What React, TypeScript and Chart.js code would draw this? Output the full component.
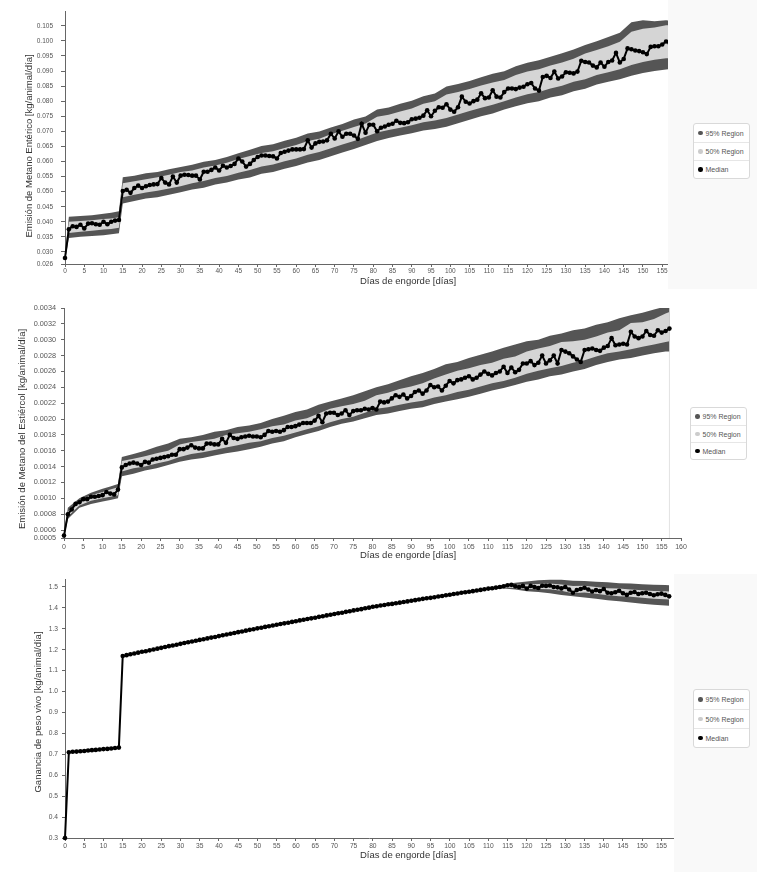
import React, { useEffect, useRef } from "react";
import { Chart, registerables } from "chart.js";

Chart.register(...registerables);

const FONT = '"Liberation Sans", Arial, Helvetica, sans-serif';
const DARK = "#555555";
const LIGHT = "#d5d5d5";
const AXIS = "#666666";

// ---- categories (days of fattening) ----
const days = [
  0, 1, 2, 3, 4, 5, 6, 7, 8, 9, 10, 11, 12, 13, 14, 15, 16, 17, 18, 19,
  20, 21, 22, 23, 24, 25, 26, 27, 28, 29, 30, 31, 32, 33, 34, 35, 36, 37, 38, 39,
  40, 41, 42, 43, 44, 45, 46, 47, 48, 49, 50, 51, 52, 53, 54, 55, 56, 57, 58, 59,
  60, 61, 62, 63, 64, 65, 66, 67, 68, 69, 70, 71, 72, 73, 74, 75, 76, 77, 78, 79,
  80, 81, 82, 83, 84, 85, 86, 87, 88, 89, 90, 91, 92, 93, 94, 95, 96, 97, 98, 99,
  100, 101, 102, 103, 104, 105, 106, 107, 108, 109, 110, 111, 112, 113, 114, 115, 116, 117, 118, 119,
  120, 121, 122, 123, 124, 125, 126, 127, 128, 129, 130, 131, 132, 133, 134, 135, 136, 137, 138, 139,
  140, 141, 142, 143, 144, 145, 146, 147, 148, 149, 150, 151, 152, 153, 154, 155, 156, 157,
];

const bandDays = [
  0, 1, 4, 7, 10, 12, 14,
  15, 18, 21, 24, 27, 30, 33, 36, 39, 42, 45, 48, 51, 54, 57, 60,
  63, 66, 69, 72, 75, 78, 81, 84, 87, 90, 93, 96, 99, 102, 105, 108,
  111, 114, 117, 120, 123, 126, 129, 132, 135, 138, 141, 144, 147, 150, 153, 156,
  157,
];

const bandDaysGain = [108, 111, 114, 117, 120, 123, 126, 129, 132, 135, 138, 141, 144, 147, 150, 153, 156, 157];

// ---- chart 1: enteric methane ----
const medianEnteric = [
  0.0280, 0.0375, 0.0385, 0.0383, 0.0390, 0.0378, 0.0394, 0.0395, 0.0392, 0.0390,
  0.0400, 0.0392, 0.0400, 0.0404, 0.0406, 0.0502, 0.0506, 0.0496, 0.0512, 0.0520,
  0.0512, 0.0518, 0.0522, 0.0524, 0.0525, 0.0545, 0.0530, 0.0524, 0.0550, 0.0530,
  0.0553, 0.0556, 0.0555, 0.0553, 0.0553, 0.0540, 0.0566, 0.0566, 0.0572, 0.0580,
  0.0570, 0.0586, 0.0580, 0.0585, 0.0592, 0.0610, 0.0600, 0.0583, 0.0592, 0.0605,
  0.0615, 0.0620, 0.0620, 0.0618, 0.0617, 0.0610, 0.0628, 0.0632, 0.0636, 0.0640,
  0.0640, 0.0640, 0.0641, 0.0670, 0.0646, 0.0660, 0.0665, 0.0666, 0.0670, 0.0692,
  0.0676, 0.0700, 0.0682, 0.0692, 0.0692, 0.0686, 0.0675, 0.0725, 0.0695, 0.0722,
  0.0722, 0.0700, 0.0712, 0.0716, 0.0722, 0.0725, 0.0735, 0.0728, 0.0727, 0.0730,
  0.0740, 0.0742, 0.0745, 0.0752, 0.0770, 0.0750, 0.0768, 0.0780, 0.0778, 0.0790,
  0.0772, 0.0765, 0.0780, 0.0815, 0.0798, 0.0792, 0.0800, 0.0805, 0.0826, 0.0810,
  0.0812, 0.0836, 0.0815, 0.0812, 0.0830, 0.0842, 0.0842, 0.0840, 0.0845, 0.0848,
  0.0856, 0.0860, 0.0842, 0.0835, 0.0880, 0.0884, 0.0877, 0.0898, 0.0875, 0.0882,
  0.0896, 0.0894, 0.0892, 0.0898, 0.0934, 0.0930, 0.0928, 0.0918, 0.0912, 0.0928,
  0.0914, 0.0930, 0.0935, 0.0960, 0.0928, 0.0940, 0.0975, 0.0972, 0.0968, 0.0966,
  0.0962, 0.0956, 0.0980, 0.0982, 0.0982, 0.0988, 0.0998, 0.0990,
];
const hi95Enteric = [
  0.0290, 0.0417, 0.0419, 0.0422, 0.0427, 0.0430, 0.0435,
  0.0548, 0.0553, 0.0561, 0.0565, 0.0574, 0.0582, 0.0589, 0.0599, 0.0605, 0.0615, 0.0627, 0.0639, 0.0651, 0.0657, 0.0669, 0.0679,
  0.0693, 0.0699, 0.0713, 0.0724, 0.0739, 0.0749, 0.0772, 0.0779, 0.0791, 0.0801, 0.0816, 0.0825, 0.0849, 0.0857, 0.0867, 0.0879,
  0.0891, 0.0899, 0.0916, 0.0927, 0.0936, 0.0947, 0.0959, 0.0971, 0.0986, 0.0999, 0.1013, 0.1027, 0.1062, 0.1068, 0.1065, 0.1068,
  0.1067,
];
const lo95Enteric = [
  0.0270, 0.0346, 0.0350, 0.0353, 0.0355, 0.0359, 0.0362,
  0.0461, 0.0469, 0.0477, 0.0481, 0.0490, 0.0498, 0.0507, 0.0513, 0.0524, 0.0530, 0.0540, 0.0547, 0.0559, 0.0565, 0.0576, 0.0585,
  0.0597, 0.0605, 0.0617, 0.0630, 0.0641, 0.0655, 0.0668, 0.0678, 0.0686, 0.0694, 0.0703, 0.0708, 0.0715, 0.0727, 0.0738, 0.0750,
  0.0759, 0.0772, 0.0783, 0.0793, 0.0800, 0.0812, 0.0820, 0.0833, 0.0841, 0.0855, 0.0864, 0.0873, 0.0884, 0.0893, 0.0900, 0.0905,
  0.0906,
];
const hi50Enteric = [
  0.0285, 0.0400, 0.0403, 0.0405, 0.0409, 0.0411, 0.0415,
  0.0528, 0.0534, 0.0541, 0.0548, 0.0556, 0.0565, 0.0570, 0.0580, 0.0587, 0.0596, 0.0608, 0.0618, 0.0628, 0.0634, 0.0645, 0.0655,
  0.0668, 0.0675, 0.0690, 0.0702, 0.0714, 0.0726, 0.0748, 0.0755, 0.0766, 0.0776, 0.0791, 0.0800, 0.0822, 0.0830, 0.0840, 0.0852,
  0.0862, 0.0870, 0.0887, 0.0898, 0.0906, 0.0918, 0.0928, 0.0941, 0.0958, 0.0970, 0.0982, 0.0997, 0.1030, 0.1040, 0.1044, 0.1052,
  0.1052,
];
const lo50Enteric = [
  0.0275, 0.0363, 0.0367, 0.0370, 0.0374, 0.0376, 0.0380,
  0.0481, 0.0490, 0.0497, 0.0503, 0.0510, 0.0518, 0.0528, 0.0535, 0.0545, 0.0552, 0.0563, 0.0572, 0.0583, 0.0590, 0.0601, 0.0610,
  0.0622, 0.0631, 0.0644, 0.0656, 0.0668, 0.0682, 0.0696, 0.0704, 0.0712, 0.0720, 0.0730, 0.0736, 0.0744, 0.0756, 0.0767, 0.0778,
  0.0788, 0.0800, 0.0812, 0.0823, 0.0830, 0.0842, 0.0851, 0.0864, 0.0873, 0.0887, 0.0896, 0.0906, 0.0920, 0.0930, 0.0937, 0.0942,
  0.0942,
];

// ---- chart 2: manure methane ----
const medianManure = [
  0.00053, 0.00080, 0.00086, 0.00093, 0.00095, 0.00099, 0.00099, 0.00102, 0.00102, 0.00103,
  0.00104, 0.00108, 0.00106, 0.00105, 0.00111, 0.00139, 0.00142, 0.00144, 0.00145, 0.00144,
  0.00142, 0.00146, 0.00145, 0.00149, 0.00150, 0.00151, 0.00152, 0.00153, 0.00155, 0.00155,
  0.00162, 0.00162, 0.00164, 0.00167, 0.00164, 0.00163, 0.00163, 0.00169, 0.00169, 0.00168,
  0.00168, 0.00175, 0.00170, 0.00180, 0.00176, 0.00175, 0.00177, 0.00178, 0.00179, 0.00178,
  0.00178, 0.00177, 0.00180, 0.00185, 0.00184, 0.00185, 0.00184, 0.00186, 0.00190, 0.00190,
  0.00191, 0.00193, 0.00195, 0.00195, 0.00195, 0.00198, 0.00204, 0.00196, 0.00207, 0.00208,
  0.00208, 0.00205, 0.00207, 0.00211, 0.00205, 0.00210, 0.00211, 0.00211, 0.00213, 0.00212,
  0.00214, 0.00212, 0.00222, 0.00221, 0.00222, 0.00226, 0.00230, 0.00228, 0.00231, 0.00226,
  0.00229, 0.00234, 0.00236, 0.00232, 0.00236, 0.00243, 0.00240, 0.00241, 0.00236, 0.00242,
  0.00248, 0.00245, 0.00249, 0.00250, 0.00252, 0.00254, 0.00250, 0.00252, 0.00256, 0.00260,
  0.00257, 0.00255, 0.00258, 0.00260, 0.00266, 0.00258, 0.00265, 0.00259, 0.00262, 0.00270,
  0.00270, 0.00273, 0.00268, 0.00271, 0.00280, 0.00270, 0.00274, 0.00280, 0.00270, 0.00287,
  0.00285, 0.00283, 0.00279, 0.00275, 0.00272, 0.00287, 0.00288, 0.00289, 0.00287, 0.00286,
  0.00290, 0.00292, 0.00302, 0.00293, 0.00294, 0.00295, 0.00294, 0.00310, 0.00304, 0.00302,
  0.00304, 0.00311, 0.00306, 0.00305, 0.00312, 0.00309, 0.00311, 0.00314,
];
const hi95Manure = [
  0.00056, 0.00088, 0.00100, 0.00107, 0.00112, 0.00115, 0.00118,
  0.00152, 0.00156, 0.00160, 0.00165, 0.00169, 0.00175, 0.00177, 0.00180, 0.00184, 0.00186, 0.00190, 0.00192, 0.00195, 0.00200, 0.00204, 0.00209,
  0.00212, 0.00218, 0.00222, 0.00226, 0.00230, 0.00235, 0.00240, 0.00244, 0.00249, 0.00254, 0.00258, 0.00263, 0.00269, 0.00272, 0.00277, 0.00281,
  0.00285, 0.00290, 0.00294, 0.00298, 0.00300, 0.00305, 0.00308, 0.00312, 0.00314, 0.00319, 0.00322, 0.00327, 0.00331, 0.00334, 0.00338, 0.00342,
  0.00343,
];
const lo95Manure = [
  0.00050, 0.00074, 0.00088, 0.00093, 0.00096, 0.00098, 0.00100,
  0.00128, 0.00131, 0.00135, 0.00138, 0.00142, 0.00146, 0.00149, 0.00151, 0.00154, 0.00157, 0.00159, 0.00162, 0.00165, 0.00169, 0.00172, 0.00177,
  0.00181, 0.00185, 0.00190, 0.00194, 0.00197, 0.00201, 0.00205, 0.00207, 0.00210, 0.00213, 0.00215, 0.00219, 0.00222, 0.00225, 0.00228, 0.00232,
  0.00236, 0.00239, 0.00243, 0.00247, 0.00250, 0.00254, 0.00256, 0.00260, 0.00263, 0.00268, 0.00272, 0.00275, 0.00277, 0.00280, 0.00283, 0.00285,
  0.00285,
];
const hi50Manure = [
  0.00055, 0.00083, 0.00097, 0.00104, 0.00108, 0.00111, 0.00114,
  0.00147, 0.00150, 0.00153, 0.00157, 0.00160, 0.00168, 0.00171, 0.00173, 0.00175, 0.00180, 0.00182, 0.00184, 0.00187, 0.00191, 0.00193, 0.00198,
  0.00201, 0.00207, 0.00213, 0.00216, 0.00219, 0.00223, 0.00230, 0.00233, 0.00238, 0.00241, 0.00245, 0.00251, 0.00256, 0.00261, 0.00264, 0.00268,
  0.00271, 0.00276, 0.00279, 0.00285, 0.00289, 0.00292, 0.00297, 0.00298, 0.00300, 0.00304, 0.00309, 0.00312, 0.00321, 0.00322, 0.00326, 0.00333,
  0.00335,
];
const lo50Manure = [
  0.00052, 0.00077, 0.00091, 0.00097, 0.00100, 0.00102, 0.00104,
  0.00134, 0.00138, 0.00140, 0.00144, 0.00147, 0.00152, 0.00156, 0.00158, 0.00161, 0.00164, 0.00167, 0.00170, 0.00172, 0.00176, 0.00179, 0.00183,
  0.00187, 0.00191, 0.00196, 0.00200, 0.00203, 0.00208, 0.00213, 0.00215, 0.00218, 0.00221, 0.00223, 0.00227, 0.00230, 0.00234, 0.00237, 0.00241,
  0.00245, 0.00248, 0.00252, 0.00257, 0.00261, 0.00264, 0.00267, 0.00271, 0.00274, 0.00279, 0.00283, 0.00285, 0.00288, 0.00291, 0.00294, 0.00297,
  0.00298,
];

// ---- chart 3: live weight gain ----
const medianGain = [
  0.300, 0.710, 0.712, 0.713, 0.715, 0.716, 0.718, 0.720, 0.721, 0.723,
  0.725, 0.726, 0.728, 0.730, 0.732, 1.170, 1.174, 1.178, 1.182, 1.186,
  1.190, 1.193, 1.197, 1.201, 1.205, 1.209, 1.213, 1.217, 1.220, 1.224,
  1.228, 1.232, 1.236, 1.239, 1.243, 1.247, 1.250, 1.254, 1.258, 1.261,
  1.265, 1.269, 1.273, 1.276, 1.280, 1.284, 1.287, 1.291, 1.295, 1.298,
  1.302, 1.305, 1.309, 1.312, 1.316, 1.319, 1.323, 1.326, 1.329, 1.333,
  1.336, 1.340, 1.343, 1.347, 1.350, 1.353, 1.357, 1.360, 1.364, 1.367,
  1.371, 1.374, 1.377, 1.381, 1.384, 1.388, 1.391, 1.394, 1.398, 1.401,
  1.405, 1.408, 1.411, 1.414, 1.417, 1.419, 1.422, 1.425, 1.428, 1.431,
  1.434, 1.437, 1.440, 1.443, 1.446, 1.448, 1.451, 1.454, 1.457, 1.460,
  1.463, 1.466, 1.469, 1.472, 1.475, 1.477, 1.480, 1.483, 1.486, 1.489,
  1.492, 1.494, 1.497, 1.500, 1.503, 1.508, 1.510, 1.503, 1.500, 1.505,
  1.492, 1.505, 1.500, 1.495, 1.506, 1.505, 1.507, 1.500, 1.498, 1.493,
  1.500, 1.488, 1.472, 1.485, 1.490, 1.496, 1.488, 1.478, 1.485, 1.480,
  1.490, 1.472, 1.470, 1.475, 1.482, 1.470, 1.462, 1.472, 1.476, 1.466,
  1.470, 1.472, 1.466, 1.460, 1.465, 1.468, 1.462, 1.455,
];
const hi95Gain = [1.487, 1.498, 1.510, 1.520, 1.526, 1.532, 1.535, 1.534, 1.530, 1.528, 1.525, 1.522, 1.518, 1.516, 1.513, 1.511, 1.509, 1.508];
const lo95Gain = [1.485, 1.488, 1.492, 1.488, 1.480, 1.476, 1.470, 1.462, 1.455, 1.450, 1.444, 1.437, 1.432, 1.426, 1.420, 1.415, 1.411, 1.410];
const hi50Gain = [1.486, 1.495, 1.506, 1.511, 1.512, 1.514, 1.516, 1.512, 1.505, 1.506, 1.500, 1.494, 1.492, 1.488, 1.484, 1.481, 1.479, 1.478];
const lo50Gain = [1.486, 1.491, 1.497, 1.495, 1.490, 1.490, 1.489, 1.482, 1.470, 1.474, 1.467, 1.460, 1.456, 1.453, 1.448, 1.444, 1.441, 1.440];

// ---- tick labels ----
const xTicks155 = [0, 5, 10, 15, 20, 25, 30, 35, 40, 45, 50, 55, 60, 65, 70, 75, 80, 85, 90, 95, 100, 105, 110, 115, 120, 125, 130, 135, 140, 145, 150, 155];
const xTicks160 = [0, 5, 10, 15, 20, 25, 30, 35, 40, 45, 50, 55, 60, 65, 70, 75, 80, 85, 90, 95, 100, 105, 110, 115, 120, 125, 130, 135, 140, 145, 150, 155, 160];
const yTicksEnteric = [0.026, 0.030, 0.035, 0.040, 0.045, 0.050, 0.055, 0.060, 0.065, 0.070, 0.075, 0.080, 0.085, 0.090, 0.095, 0.100, 0.105];
const yTicksManure = [0.0005, 0.0006, 0.0008, 0.0010, 0.0012, 0.0014, 0.0016, 0.0018, 0.0020, 0.0022, 0.0024, 0.0026, 0.0028, 0.0030, 0.0032, 0.0034];
const yTicksGain = [0.3, 0.4, 0.5, 0.6, 0.7, 0.8, 0.9, 1.0, 1.1, 1.2, 1.3, 1.4, 1.5];

const legendLabels = ["95% Region", "50% Region", "Median"];
const legendColors = [DARK, "#cccccc", "#000000"];

const xTitle = "Días de engorde [días]";
const yTitleEnteric = "Emisión de Metano Entérico [kg/animal/día]";
const yTitleManure = "Emisión de Metano del Estiércol [kg/animal/día]";
const yTitleGain = "Ganancia de peso vivo [kg/animal/día]";

type Spec = {
  median: number[];
  bDays: number[];
  lo95: number[];
  hi95: number[];
  lo50: number[];
  hi50: number[];
  xMax: number;
  xTicks: number[];
  yMin: number;
  yMax: number;
  yTicks: number[];
  decimals: number;
  padTop: number;
  padRight: number;
  yWidth: number;
  xHeight: number;
  yFont: number;
  xFont: number;
  yPad: number;
  xPad: number;
  yTickLen: number;
  endLine?: boolean;
};

function BandChart({ spec, top, height }: { spec: Spec; top: number; height: number }) {
  const ref = useRef<HTMLCanvasElement>(null);
  useEffect(() => {
    if (!ref.current) return;
    const pts = (xs: number[], ys: number[]) => xs.map((x, i) => ({ x, y: ys[i] }));
    const datasets: any[] = [
      { data: pts(spec.bDays, spec.lo95), borderWidth: 0, pointRadius: 0, fill: false, order: 5 },
      { data: pts(spec.bDays, spec.hi95), borderWidth: 0, pointRadius: 0, fill: "-1", backgroundColor: DARK, order: 4 },
      { data: pts(spec.bDays, spec.lo50), borderWidth: 0, pointRadius: 0, fill: false, order: 3 },
      { data: pts(spec.bDays, spec.hi50), borderWidth: 0, pointRadius: 0, fill: "-1", backgroundColor: LIGHT, order: 2 },
      {
        data: pts(days, spec.median),
        borderColor: "#000",
        borderWidth: 2,
        pointRadius: 2.3,
        pointBackgroundColor: "#000",
        pointBorderWidth: 0,
        fill: false,
        order: 0,
        clip: 4,
      },
    ];
    if (spec.endLine) {
      const last = days[days.length - 1];
      datasets.push({
        data: [
          { x: last, y: spec.yMin },
          { x: last, y: spec.yMax },
        ],
        borderColor: "#e2e2e2",
        borderWidth: 1,
        pointRadius: 0,
        fill: false,
        order: 6,
      });
    }
    const chart = new Chart(ref.current, {
      type: "line",
      data: { datasets },
      options: {
        animation: false,
        responsive: false,
        events: [],
        layout: { padding: { top: spec.padTop, right: spec.padRight, left: 0, bottom: 0 }, autoPadding: false } as any,
        plugins: { legend: { display: false }, tooltip: { enabled: false } },
        elements: { line: { tension: 0 } },
        scales: {
          x: {
            type: "linear",
            min: 0,
            max: spec.xMax,
            afterBuildTicks: (s: any) => {
              s.ticks = spec.xTicks.map((v) => ({ value: v }));
            },
            afterFit: (s: any) => {
              s.height = spec.xHeight;
            },
            ticks: {
              color: "#555",
              font: { family: FONT, size: spec.xFont },
              padding: spec.xPad,
              maxRotation: 0,
              minRotation: 0,
              autoSkip: false,
              callback: (v: any) => String(v),
            },
            grid: { drawOnChartArea: false, drawTicks: true, tickLength: 3, color: AXIS },
            border: { display: true, color: AXIS, width: 1 },
          } as any,
          y: {
            type: "linear",
            min: spec.yMin,
            max: spec.yMax,
            afterBuildTicks: (s: any) => {
              s.ticks = spec.yTicks.map((v) => ({ value: v }));
            },
            afterFit: (s: any) => {
              s.width = spec.yWidth;
            },
            ticks: {
              color: "#555",
              font: { family: FONT, size: spec.yFont },
              padding: spec.yPad,
              autoSkip: false,
              callback: (v: any) => Number(v).toFixed(spec.decimals),
            },
            grid: { drawOnChartArea: false, drawTicks: true, tickLength: spec.yTickLen, color: AXIS },
            border: { display: true, color: AXIS, width: 1 },
          } as any,
        },
      },
    });
    return () => chart.destroy();
  }, [spec]);
  return (
    <canvas
      ref={ref}
      width={757}
      height={height}
      style={{ position: "absolute", left: 0, top, width: 757, height, display: "block" }}
    />
  );
}

function Legend({ left, top, rowH }: { left: number; top: number; rowH: number }) {
  return (
    <div
      style={{
        position: "absolute",
        left,
        top,
        width: 57,
        background: "#fff",
        border: "1px solid #d9d9d9",
        borderRadius: 3,
        fontFamily: FONT,
        fontSize: 7,
        color: "#555",
        boxSizing: "border-box",
      }}
    >
      {legendLabels.map((t, i) => (
        <div
          key={t}
          style={{
            height: rowH,
            display: "flex",
            alignItems: "center",
            paddingLeft: 4,
            borderTop: i ? "1px solid #e6e6e6" : "none",
            boxSizing: "border-box",
            whiteSpace: "nowrap",
          }}
        >
          <span
            style={{
              width: 4.5,
              height: 4.5,
              borderRadius: "50%",
              background: legendColors[i],
              marginRight: 3,
              display: "inline-block",
              flex: "none",
            }}
          />
          {t}
        </div>
      ))}
    </div>
  );
}

function XTitle({ cy }: { cy: number }) {
  return (
    <div
      style={{
        position: "absolute",
        left: 408,
        top: cy,
        transform: "translate(-50%, -50%)",
        fontFamily: FONT,
        fontSize: 9.5,
        color: "#333",
        whiteSpace: "nowrap",
        lineHeight: 1,
      }}
    >
      {xTitle}
    </div>
  );
}

function YTitle({ cx, cy, text }: { cx: number; cy: number; text: string }) {
  return (
    <div
      style={{
        position: "absolute",
        left: cx,
        top: cy,
        transform: "translate(-50%, -50%) rotate(-90deg)",
        fontFamily: FONT,
        fontSize: 9.5,
        color: "#333",
        whiteSpace: "nowrap",
        lineHeight: 1,
      }}
    >
      {text}
    </div>
  );
}

const specEnteric: Spec = {
  median: medianEnteric,
  bDays: bandDays,
  lo95: lo95Enteric,
  hi95: hi95Enteric,
  lo50: lo50Enteric,
  hi50: hi50Enteric,
  xMax: 156.5,
  xTicks: xTicks155,
  yMin: 0.026,
  yMax: 0.1096,
  yTicks: yTicksEnteric,
  decimals: 3,
  padTop: 8,
  padRight: 89,
  yWidth: 65,
  xHeight: 28,
  yFont: 6.5,
  xFont: 6.5,
  yPad: 8,
  xPad: 0,
  yTickLen: 4,
};

const specManure: Spec = {
  median: medianManure,
  bDays: bandDays,
  lo95: lo95Manure,
  hi95: hi95Manure,
  lo50: lo50Manure,
  hi50: hi50Manure,
  xMax: 160,
  xTicks: xTicks160,
  yMin: 0.0005,
  yMax: 0.0034,
  yTicks: yTicksManure,
  decimals: 4,
  padTop: 16,
  padRight: 76,
  yWidth: 64,
  xHeight: 34,
  yFont: 7.3,
  xFont: 7,
  yPad: 5,
  xPad: 1.5,
  yTickLen: 3,
  endLine: true,
};

const specGain: Spec = {
  median: medianGain,
  bDays: bandDaysGain,
  lo95: lo95Gain,
  hi95: hi95Gain,
  lo50: lo50Gain,
  hi50: hi50Gain,
  xMax: 158,
  xTicks: xTicks155,
  yMin: 0.3,
  yMax: 1.538,
  yTicks: yTicksGain,
  decimals: 1,
  padTop: 9,
  padRight: 84,
  yWidth: 65,
  xHeight: 34,
  yFont: 6.7,
  xFont: 6.7,
  yPad: 4,
  xPad: 1.5,
  yTickLen: 3,
};

export default function App() {
  return (
    <div style={{ position: "absolute", left: 0, top: 0, width: 757, height: 872, background: "#fff", overflow: "hidden" }}>
      <BandChart spec={specEnteric} top={0} height={292} />
      <BandChart spec={specManure} top={292} height={280} />
      <BandChart spec={specGain} top={570} height={302} />

      <div style={{ position: "absolute", left: 668, top: 0, width: 89, height: 289, background: "#f9f9f9" }} />
      <div style={{ position: "absolute", left: 674, top: 574, width: 83, height: 298, background: "#f9f9f9" }} />

      <Legend left={693} top={123} rowH={18} />
      <Legend left={690} top={407} rowH={17} />
      <Legend left={693} top={689} rowH={19} />

      <XTitle cy={281} />
      <XTitle cy={555} />
      <XTitle cy={855} />

      <YTitle cx={29} cy={146} text={yTitleEnteric} />
      <YTitle cx={22} cy={429} text={yTitleManure} />
      <YTitle cx={38} cy={712} text={yTitleGain} />
    </div>
  );
}
